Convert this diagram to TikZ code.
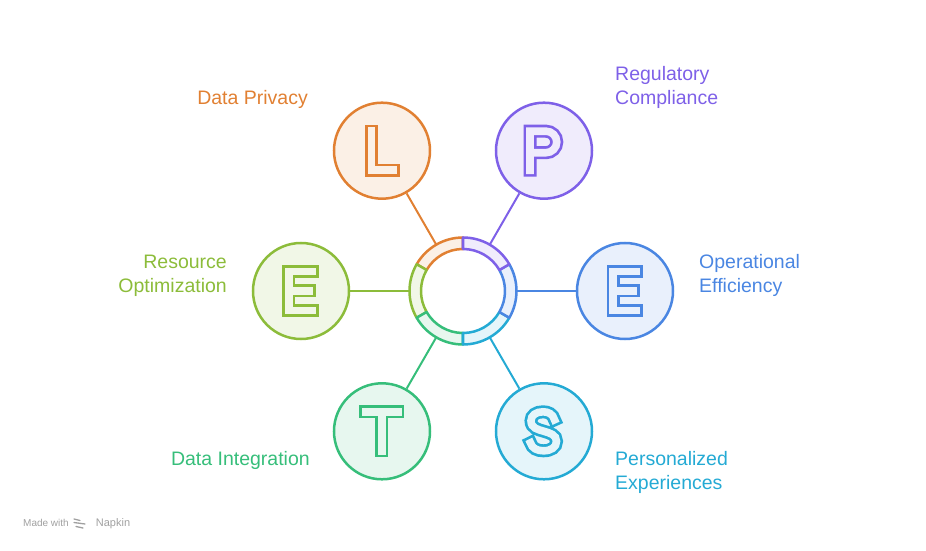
\documentclass[tikz,border=0pt]{standalone}
\usepackage{fontspec}
\setmainfont{Liberation Sans}
\definecolor{dpOrange}{RGB}{225,128,50}
\definecolor{rcPurple}{RGB}{126,96,232}
\definecolor{oeBlue}{RGB}{74,134,226}
\definecolor{peCyan}{RGB}{36,170,212}
\definecolor{diGreen}{RGB}{54,190,122}
\definecolor{roLime}{RGB}{140,188,58}
\definecolor{creditgray}{RGB}{160,160,160}
\newcommand\letterglyph[2]{%
  \draw[line width=13pt, draw=#1, line cap=rect] #2;
  \draw[line width=7.6pt, draw=#1!12, line cap=rect] #2;}
\begin{document}
\begin{tikzpicture}[x=1pt, y=1pt,
  bubble/.style={circle, draw=#1, fill=#1!12, line width=2.5pt, minimum size=96pt, inner sep=0pt},
  link/.style={draw=#1, line width=2pt},
  ringseg/.style={draw=#1, fill=#1!12, line width=2.5pt, line join=round},
  lbl/.style={text=#1, font=\fontsize{19.5}{24}\selectfont, inner sep=0pt},
  credit/.style={text=creditgray, font=\fontsize{10}{12}\selectfont, inner sep=0pt}]
  \useasboundingbox (-463,-260) rectangle (463,291);
  \node[circle, minimum size=107pt, inner sep=0pt] (hub) at (0,0) {};
  \node[bubble=dpOrange] (privacy) at (120:162) {};
  \node[bubble=rcPurple] (compliance) at (60:162) {};
  \node[bubble=oeBlue] (efficiency) at (0:162) {};
  \node[bubble=peCyan] (experiences) at (-60:162) {};
  \node[bubble=diGreen] (integration) at (-120:162) {};
  \node[bubble=roLime] (optimization) at (180:162) {};
  \draw[link=dpOrange] (hub) -- (privacy);
  \draw[link=rcPurple] (hub) -- (compliance);
  \draw[link=oeBlue] (hub) -- (efficiency);
  \draw[link=peCyan] (hub) -- (experiences);
  \draw[link=diGreen] (hub) -- (integration);
  \draw[link=roLime] (hub) -- (optimization);
  \foreach \s/\c in {90/dpOrange, 150/roLime, 210/diGreen, 270/peCyan, 330/oeBlue, 30/rcPurple}
    \draw[ringseg=\c] (\s:42) arc[start angle=\s, delta angle=60, radius=42]
      -- ({\s+60}:53.5) arc[start angle={\s+60}, delta angle=-60, radius=53.5] -- cycle;
  \begin{scope}[shift={(privacy.center)}]
    \letterglyph{dpOrange}{(-10.5,19.5) -- (-10.5,-19.5) -- (11.5,-19.5)}
  \end{scope}
  \begin{scope}[shift={(compliance.center)}]
    \letterglyph{rcPurple}{(-14,-19.5) -- (-14,19.5) -- (2,19.5)
      arc[start angle=90, end angle=-90, radius=10.75] -- (-14,-2)}
  \end{scope}
  \begin{scope}[shift={(efficiency.center)}]
    \letterglyph{oeBlue}{(11.5,19.5) -- (-12,19.5) -- (-12,-19.5) -- (11.5,-19.5)
      (-12,0) -- (8.5,0)}
  \end{scope}
  \begin{scope}[shift={(experiences.center)}]
    \letterglyph{peCyan}{(10.5,11.5) .. controls (9,17.5) and (4,19.5) .. (-1,19.5)
      .. controls (-8,19.5) and (-13,16) .. (-13,10.5)
      .. controls (-13,3) and (-6,1.8) .. (0,0)
      .. controls (6,-1.8) and (12.5,-3.5) .. (12.5,-10)
      .. controls (12.5,-16) and (7,-19.5) .. (-0.5,-19.5)
      .. controls (-7,-19.5) and (-12,-17) .. (-13.5,-11.5)}
  \end{scope}
  \begin{scope}[shift={(integration.center)}]
    \letterglyph{diGreen}{(-16,19.5) -- (16,19.5) (0,19.5) -- (0,-19.5)}
  \end{scope}
  \begin{scope}[shift={(optimization.center)}]
    \letterglyph{roLime}{(11.5,19.5) -- (-12,19.5) -- (-12,-19.5) -- (11.5,-19.5)
      (-12,0) -- (8.5,0)}
  \end{scope}
  \node[lbl=dpOrange, anchor=base east] (privacytext) at (-155,186) {Data Privacy};
  \node[lbl=rcPurple, anchor=base west, align=left] (compliancetext) at (152,186) {Regulatory\\Compliance};
  \node[lbl=oeBlue, anchor=base west, align=left] (efficiencytext) at (236,-2) {Operational\\Efficiency};
  \node[lbl=peCyan, anchor=base west, align=left] (experiencestext) at (152,-198) {Personalized\\Experiences};
  \node[lbl=diGreen, anchor=base east] (integrationtext) at (-153,-174) {Data Integration};
  \node[lbl=roLime, anchor=base east, align=right] (optimizationtext) at (-236,-2) {Resource\\Optimization};
  \node[credit, anchor=base west] (madewith) at (-440,-235) {Made with};
  \node[credit, anchor=base west, font=\fontsize{11}{12}\selectfont] (napkin) at (-367.3,-235) {Napkin};
  \draw[creditgray, line width=1.3pt, line cap=round] (-389,-228) -- (-383,-229.5)
    (-389,-231.5) -- (-378,-233) (-387,-235.5) -- (-380,-237);
\end{tikzpicture}
\end{document}
